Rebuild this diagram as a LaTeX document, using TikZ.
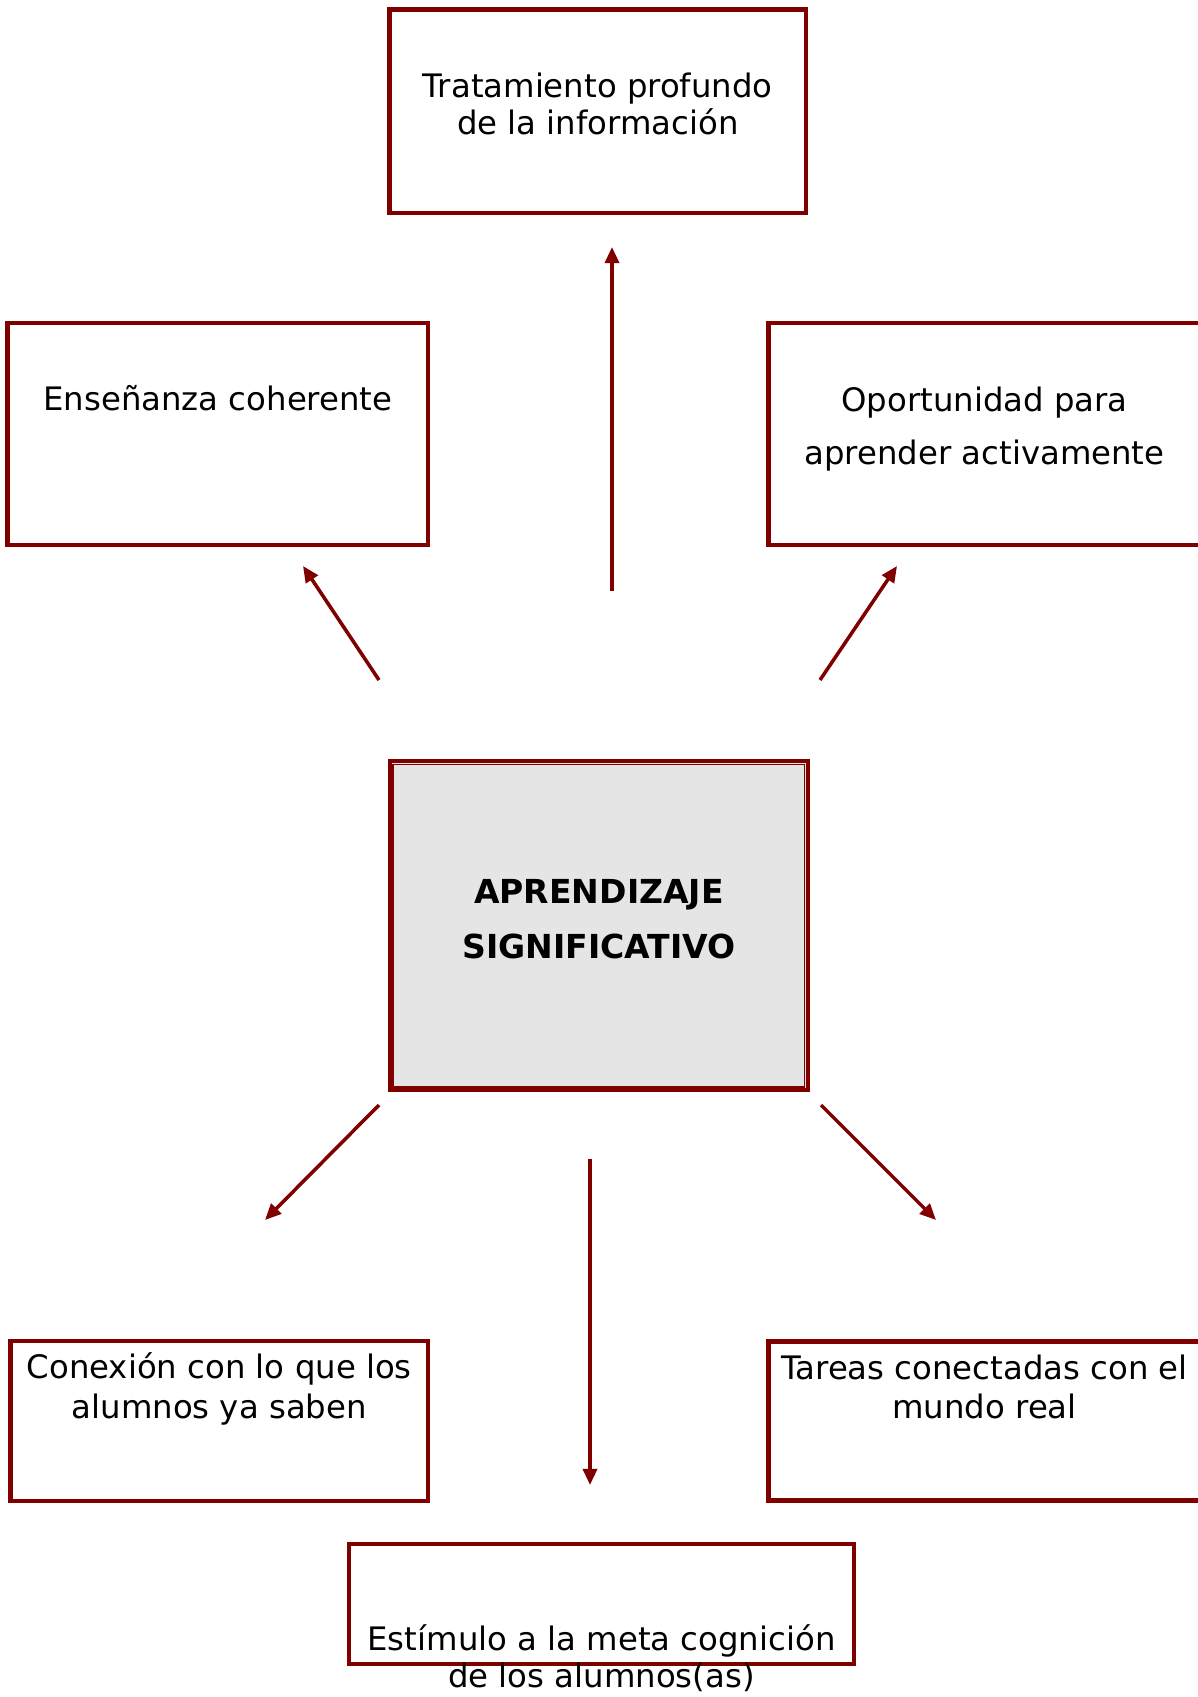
\documentclass[tikz,border=0pt]{standalone}
\usepackage{fontspec}
\setmainfont{DejaVu Sans}
\usetikzlibrary{arrows.meta}
\definecolor{granate}{RGB}{128,0,0}

\begin{document}
\begin{tikzpicture}[x=0.1mm, y=-0.1mm,
        box/.style={draw=granate, line width=1.2pt, inner sep=0pt, align=center,
            font={\fontsize{9.2}{10.8}\selectfont}, text height=2.5mm},
        hub/.style={box, fill=black!10, font={\bfseries\fontsize{9.4}{15.6}\selectfont}},
        flecha/.style={granate, line width=1pt, -{Triangle[length=4.6pt, width=4pt]}}]
    \useasboundingbox (0,0) rectangle (1197,1697);
    % cajas
    \node[box, minimum width=41.65mm, minimum height=20.35mm, text height=4.75mm, text depth=0pt] (trat) at (597.75,111.25)
        {Tratamiento profundo\\de la información};
    \node[box, minimum width=42.08mm, minimum height=22.2mm, text depth=7.1mm] (ens) at (217.9,434)
        {Enseñanza coherente};
    \node[box, minimum width=43.2mm, minimum height=22.2mm, text height=6.2mm, text depth=0pt,
        font={\fontsize{9.2}{15.1}\selectfont}] (opo) at (984.5,434)
        {Oportunidad para\\aprender activamente};
    \node[hub, minimum width=41.83mm, minimum height=32.93mm, text height=6.47mm, text depth=0pt] (apr) at (598.9,925.7)
        {APRENDIZAJE\\SIGNIFICATIVO};
    \draw[granate, line width=0.4pt] ([shift={(5.5,5.5)}]apr.north west) rectangle ([shift={(-5.5,-5.5)}]apr.south east);
    \node[box, minimum width=41.75mm, minimum height=16mm, text depth=3.1mm,
        font={\fontsize{9.2}{11.1}\selectfont}] (con) at (219.25,1421)
        {Conexión con lo que los\\alumnos ya saben};
    \node[box, minimum width=43.2mm, minimum height=15.9mm, text depth=3.04mm,
        font={\fontsize{9.2}{11.1}\selectfont}] (tar) at (984.5,1421)
        {Tareas conectadas con el\\mundo real};
    \node[box, minimum width=50.5mm, minimum height=11mm, text height=16.66mm, text depth=0pt, inner ysep=-2.33mm,
        font={\fontsize{9.2}{10.3}\selectfont}] (est) at (601.5,1603.7)
        {Estímulo a la meta cognición\\de los alumnos(as)};
    % flechas
    \coordinate (s1) at (612,591);   \coordinate (t1) at (612,247);
    \coordinate (s2) at (379,680);   \coordinate (t2) at (303,566);
    \coordinate (s3) at (820,680);   \coordinate (t3) at (897,566);
    \coordinate (s4) at (379,1105);  \coordinate (t4) at (265,1220);
    \coordinate (s5) at (590,1159);  \coordinate (t5) at (590,1485);
    \coordinate (s6) at (821,1105);  \coordinate (t6) at (936,1220);
    \foreach \i in {1,...,6}
        \draw[flecha] (s\i) -- (t\i);
\end{tikzpicture}
\end{document}
